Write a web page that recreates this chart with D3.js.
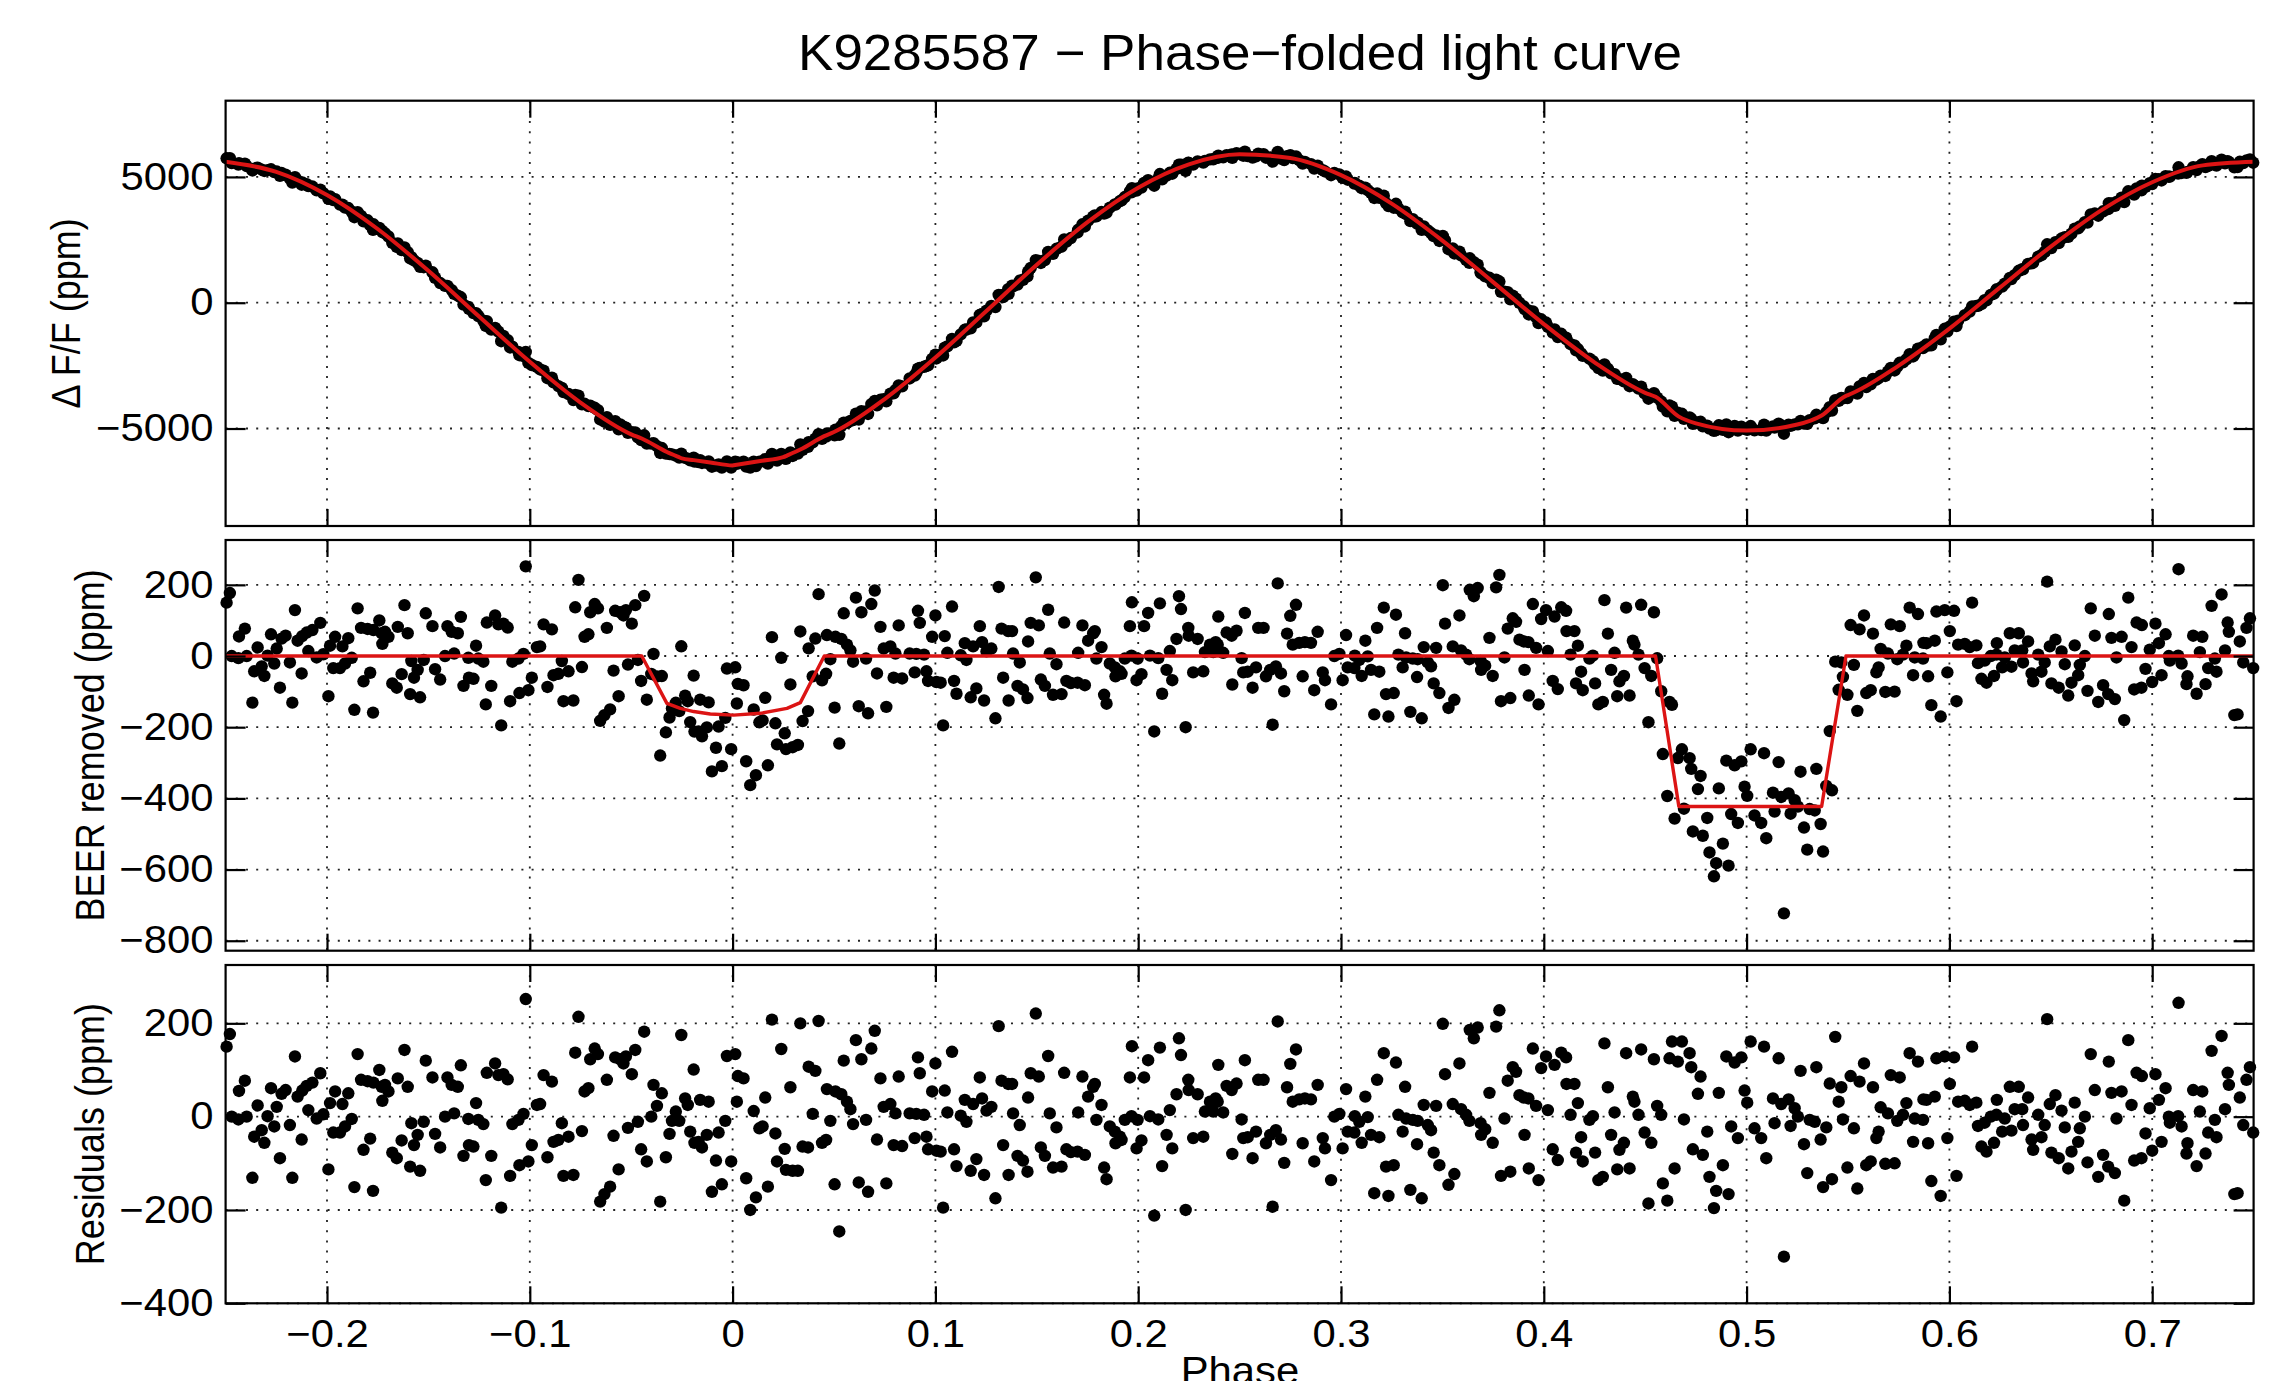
<!DOCTYPE html>
<html>
<head>
<meta charset="utf-8">
<script src="https://cdn.jsdelivr.net/npm/d3@7"></script>
<style>
  body { margin: 0; background: #fff; }
  text { font-family: "Liberation Sans", Arial, Helvetica, sans-serif; fill: #000; }
</style>
</head>
<body>
<div id="chart"></div>
<script>
// phase of every folded data point, and its residual after the full model (ppm)
const phase = [
  -0.2479, -0.2495, -0.2405, -0.2434, -0.2470, -0.2437, -0.2396, -0.2342, -0.2359, -0.2322,
  -0.2309, -0.2368, -0.2293, -0.2276, -0.2260, -0.2248, -0.2232, -0.2224, -0.2204, -0.2183,
  -0.2158, -0.2171, -0.2145, -0.2125, -0.2122, -0.2100, -0.2072, -0.2092, -0.2051, -0.2033,
  -0.2018, -0.1993, -0.1985, -0.1960, -0.1969, -0.1936, -0.1924, -0.1911, -0.1895, -0.1878,
  -0.1849, -0.1865, -0.1832, -0.1800, -0.1771, -0.1820, -0.1787, -0.1773, -0.1742, -0.1730,
  -0.1714, -0.1697, -0.1727, -0.1678, -0.1651, -0.1656, -0.1618, -0.1632, -0.1602, -0.1590,
  -0.1541, -0.1571, -0.1584, -0.1523, -0.1553, -0.1467, -0.1513, -0.1480, -0.1442, -0.1418,
  -0.1373, -0.1406, -0.1385, -0.1355, -0.1340, -0.1327, -0.1303, -0.1254, -0.1229, -0.1300,
  -0.1278, -0.1265, -0.1217, -0.1190, -0.1212, -0.1171, -0.1155, -0.1130, -0.1109, -0.1141,
  -0.1097, -0.1086, -0.1056, -0.1031, -0.1051, -0.1007, -0.1020, -0.0990, -0.0965, -0.0949,
  -0.0932, -0.0891, -0.0913, -0.0883, -0.0859, -0.0842, -0.0834,
  -0.0809, -0.0785, -0.0760, -0.0776, -0.0743, -0.0730, -0.0711, -0.0702, -0.0680, -0.0664,
  -0.0653, -0.0632, -0.0604, -0.0620, -0.0587, -0.0579, -0.0554, -0.0538, -0.0526, -0.0480,
  -0.0562, -0.0516, -0.0497, -0.0467, -0.0451, -0.0436, -0.0423, -0.0401, -0.0390, -0.0373,
  -0.0349, -0.0357, -0.0329, -0.0311, -0.0299, -0.0280, -0.0263, -0.0253, -0.0234, -0.0221,
  -0.0209, -0.0192, -0.0188, -0.0168, -0.0151, -0.0160, -0.0118, -0.0127, -0.0102, -0.0082,
  -0.0069, -0.0053, -0.0036, -0.0028, 0.0013, -0.0007, 0.0026, 0.0054, 0.0021, 0.0067,
  0.0087, 0.0104, 0.0115, 0.0132, 0.0148, 0.0161, 0.0174, 0.0194, 0.0211, 0.0219,
  0.0240, 0.0257, 0.0263, 0.0296, 0.0322, 0.0285, 0.0334, 0.0345, 0.0372, 0.0375,
  0.0408, 0.0395, 0.0424, 0.0441, 0.0461, 0.0465, 0.0507, 0.0536, 0.0482, 0.0503,
  0.0526, 0.0548, 0.0564, 0.0581, 0.0594, 0.0608, 0.0622, 0.0635, 0.0658, 0.0668,
  0.0684, 0.0701, 0.0712, 0.0729, 0.0745, 0.0778, 0.0803, 0.0758, 0.0794, 0.0836,
  0.0819,
  0.0873, 0.0906, 0.0944, 0.0898, 0.0956, 0.0914, 0.0923, 0.0964, 0.1005, 0.1026,
  0.0984, 0.1046, 0.1000, 0.1038, 0.1059, 0.1082, 0.1092, 0.1104, 0.1125, 0.1153,
  0.1145, 0.1186, 0.1230, 0.1174, 0.1202, 0.1219, 0.1240, 0.1252, 0.1276, 0.1296,
  0.1312, 0.1326, 0.1359, 0.1378, 0.1334, 0.1361, 0.1383, 0.1405, 0.1432, 0.1416,
  0.1454, 0.1457, 0.1470, 0.1510, 0.1495, 0.1520, 0.1540, 0.1556, 0.1564, 0.1580,
  0.1622, 0.1597, 0.1635, 0.1646, 0.1668, 0.1701, 0.1737, 0.1704, 0.1725, 0.1753,
  0.1778, 0.1786, 0.1794, 0.1819, 0.1832, 0.1844, 0.1860, 0.1885, 0.1910, 0.1934,
  0.1967, 0.1888, 0.1918, 0.1959, 0.1969, 0.1997, 0.1992, 0.2016, 0.2029, 0.2049,
  0.2058, 0.2099, 0.2079, 0.2107, 0.2118, 0.2140, 0.2156, 0.2168, 0.2189, 0.2201,
  0.2211, 0.2234, 0.2247, 0.2249, 0.2293, 0.2271, 0.2321, 0.2329, 0.2354, 0.2382,
  0.2392, 0.2370, 0.2419, 0.2395, 0.2436, 0.2461, 0.2485, 0.2464, 0.2510, 0.2518,
  0.2526,
  0.2540, 0.2581, 0.2564, 0.2592, 0.2618, 0.2630, 0.2651, 0.2679, 0.2704, 0.2663,
  0.2688, 0.2720, 0.2734, 0.2750, 0.2762, 0.2794, 0.2822, 0.2852, 0.2778, 0.2811,
  0.2868, 0.2885, 0.2910, 0.2921, 0.2951, 0.2967, 0.2992, 0.3008, 0.3025, 0.3033,
  0.3066, 0.3068, 0.3090, 0.3132, 0.3102, 0.3120, 0.3148, 0.3189, 0.3178, 0.3164,
  0.3234, 0.3211, 0.3222, 0.3260, 0.3271, 0.3283, 0.3321, 0.3354, 0.3378, 0.3304,
  0.3316, 0.3342, 0.3398, 0.3375, 0.3408, 0.3428, 0.3444, 0.3457, 0.3485, 0.3469,
  0.3502, 0.3513, 0.3530, 0.3559, 0.3551, 0.3592, 0.3617, 0.3633, 0.3584, 0.3635,
  0.3655, 0.3674, 0.3688, 0.3711, 0.3691, 0.3732, 0.3748, 0.3765, 0.3781, 0.3789,
  0.3835, 0.3806, 0.3822, 0.3847, 0.3863, 0.3880, 0.3901, 0.3924, 0.3962, 0.3905,
  0.3926, 0.3946, 0.3974, 0.3987, 0.4011, 0.4020, 0.4044, 0.4069, 0.4053, 0.4086,
  0.4110, 0.4112, 0.4151, 0.4132, 0.4168, 0.4159, 0.4192, 0.4184,
  0.4225, 0.4242, 0.4253, 0.4269, 0.4291, 0.4299, 0.4316, 0.4332, 0.4349, 0.4362,
  0.4373, 0.4395, 0.4406, 0.4423, 0.4439, 0.4447, 0.4467, 0.4480, 0.4497, 0.4530,
  0.4516, 0.4543, 0.4559, 0.4579, 0.4587, 0.4609, 0.4620, 0.4632, 0.4661, 0.4681,
  0.4719, 0.4645, 0.4691, 0.4727, 0.4773, 0.4735, 0.4784, 0.4760, 0.4806, 0.4817,
  0.4839, 0.4850, 0.4911, 0.4863, 0.4883, 0.4900, 0.4941, 0.4974, 0.4924, 0.4957,
  0.4990, 0.5003, 0.5020, 0.5086, 0.5039, 0.5072, 0.5097, 0.5138, 0.5158, 0.5184,
  0.5130, 0.5171, 0.5207, 0.5237, 0.5253, 0.5217, 0.5266, 0.5283, 0.5299, 0.5311,
  0.5336, 0.5344, 0.5365, 0.5377, 0.5393, 0.5410, 0.5467, 0.5421, 0.5437, 0.5454,
  0.5475, 0.5529, 0.5497, 0.5513, 0.5557, 0.5546, 0.5579, 0.5590, 0.5612, 0.5623,
  0.5640, 0.5651, 0.5661, 0.5697, 0.5684, 0.5730, 0.5711, 0.5755, 0.5743, 0.5771,
  0.5788, 0.5804, 0.5845, 0.5821, 0.5829, 0.5870, 0.5872,
  0.5895, 0.5887, 0.5928, 0.5911, 0.5936, 0.5977, 0.6023, 0.5957, 0.5990, 0.6002,
  0.6035, 0.6043, 0.6076, 0.6100, 0.6133, 0.6112, 0.6141, 0.6174, 0.6204, 0.6232,
  0.6158, 0.6183, 0.6220, 0.6234, 0.6260, 0.6306, 0.6273, 0.6298, 0.6342, 0.6322,
  0.6359, 0.6363, 0.6388, 0.6405, 0.6413, 0.6454, 0.6438, 0.6470, 0.6482, 0.6495,
  0.6523, 0.6503, 0.6539, 0.6553, 0.6569, 0.6586, 0.6602, 0.6635, 0.6618, 0.6643,
  0.6668, 0.6681, 0.6697, 0.6717, 0.6734, 0.6758, 0.6783, 0.6816, 0.6786, 0.6799,
  0.6849, 0.6824, 0.6862, 0.6882, 0.6898, 0.6911, 0.6947, 0.7000, 0.6923, 0.6949,
  0.6967, 0.6988, 0.7016, 0.7033, 0.7046, 0.7066, 0.7082, 0.7087, 0.7128, 0.7130,
  0.7145, 0.7174, 0.7169, 0.7202, 0.7247, 0.7219, 0.7235, 0.7263, 0.7276, 0.7317,
  0.7293, 0.7309, 0.7342, 0.7359, 0.7372, 0.7378, 0.7405, 0.7421, 0.7432, 0.7449,
  0.7465, 0.7482, 0.7498
]

const resid = [
  177, 150, 77, 55, 0, -6, 0, 24, -43, -29,
  -56, -131, 1, 61, -21, 21, -89, 49, 57, -18,
  129, -131, 43, -49, 56, 66, 73, 14, -4, 93,
  5, -113, 29, 54, -34, -34, 27, -21, 50, -5,
  134, -151, 79, 76, 73, -71, -47, -159, 100, 64,
  68, 54, 34, -77, 82, -89, 143, -51, 64, -107,
  -116, -61, -14, -11, -39, -37, 120, 84, -66, 0,
  7, 84, 68, 64, 110, -84, -5, -7, -16, -61,
  -64, 29, -136, -84, 94, 114, 89, 91, 80, -195,
  -127, -16, -7, 6, -104, -96, 252, -61, 25, 27,
  89, 75, -87, -54, -50, -14, -127,
  -43, -125, 214, 137, -31, 54, 61, 123, 146, 134,
  -182, -166, -150, 79, -41, 127, 123, 114, 129, 143,
  -113, -24, 91, -11, -70, 182, -96, 0, 68, 23,
  50, -182, -87, -37, -9, 11, -9, 175, 39, 25,
  -32, 101, -56, -54, -66, 36, 32, -39, -161, -94,
  -34, -145, -9, 130, 134, -96, 87, 82, 32, -132,
  -200, 12, -173, -25, -21, 41, -150, 208, -36, -96,
  145, -69, -114, -116, -116, 63, 200, -64, -66, 107,
  98, 6, 205, -56, -50, 59, 54, 48, -9, -145,
  -246, 120, 32, 16, -16, 164, -141, 123, -7, -161,
  146, 184, -49, 82, 21, 27, 7, -143, -61, -63,
  86,
  7, 6, 4, -46, -43, 127, 93, -70, -73, -75,
  54, 56, 114, -195, 9, 139, -70, -106, 2, -11,
  36, 27, 39, -116, -91, 84, -125, 13, 21, -175,
  194, 77, 70, 70, -61, -125, 7, -84, -94, -18,
  -118, 41, 93, 86, 221, -66, -84, 130, 7, -109,
  -107, -23, 94, -70, -76, -75, -82, 9, 86, 43,
  64, 70, -7, 25, -109, -134, -21, -32, -43, -7,
  1, -57, -50, 84, 151, -7, -68, -51, 84, 121,
  1, -6, -212, 148, -106, -39, 14, -68, 48, 168,
  132, -200, 79, 57, 48, -46, -43, 11, 32, 39,
  32, 11, 9, 111, 66, 57, 71, -80, -6, -46,
  121,
  -44, -32, -89, 79, 79, -57, -39, -29, -49, -193,
  204, -99, 63, 113, 32, 37, 39, 37, 144, -57,
  -96, 68, -46, -68, -136, 0, 6, -68, 59, -32,
  -34, 1, -11, -1, -56, 43, -39, -44, 79, -164,
  -170, 136, -107, -104, 116, 4, -4, -7, -9, -32,
  64, -157, -175, -59, 25, -18, -29, -77, -104, 23,
  199, 91, -146, -123, 27, 16, 4, -9, 114, 186,
  168, 191, -14, -27, -39, 51, -56, 193, 228, -127,
  -118, -4, 77, 106, 96, 46, 41, 39, 23, -39,
  -111, 146, -136, 104, 129, 14, -70, -93, 111, 137,
  127, 70, 70, 4, 29, -77, -96, -44,
  -7, 1, -77, -136, -129, 157, 63, -39, 9, -113,
  -71, -56, 136, -111, 43, 32, 4, 144, -34, -56,
  -186, 123, 23, 4, -143, -180, 125, 161, 118, 161,
  136, -111, -6, 106, 86, -70, -82, 49, -32, -129,
  -196, -159, -166, 51, -104, 129, 116, 127, -21, -46,
  56, 30, 161, 150, -25, -46, -89, -14, 125, -300,
  39, 27, 37, 18, 0, -20, 98, -59, -121, -7,
  -11, 106, -49, -151, -23, 71, 63, -134, 171, 32,
  -6, -25, -109, 87, 75, -154, 114, -104, -96, 63,
  -46, -32, 20, 7, -101, -100, 89, 84, -9, 4,
  29, 136, 118, -54, -4, -7, 37,
  -57, 36, 43, -138, 125, 129, 127, -170, -46, 70,
  -127, 32, 34, 25, 30, 150, -20, -13, 0, 4,
  -64, -75, -56, 36, -32, -30, -4, 64, 64, 16,
  16, -18, 41, -49, -71, -44, 4, -18, 209, 27,
  46, -77, -89, 13, -23, -111, -75, -54, 30, -25,
  0, -98, 134, 57, -129, -82, -107, -121, 118, 51,
  54, -4, -180, 164, 25, -94, -89, -73, 94, 87,
  -36, 18, 91, 36, -54, 61, 0, -13, 1, 244,
  -21, -57, -79, 57, 54, -106, 11, -79, -34, -44,
  141, -7, 173, 16, 94, 68, -166, -164, 41, -18,
  79, 106, -34
]

// BEER (beaming, ellipsoidal, reflection) model curve, read every 0.025 in phase
const beerPhase = [
  -0.25, -0.225, -0.2, -0.175, -0.15, -0.125, -0.1, -0.075, -0.05, -0.025,
  0, 0.025, 0.05, 0.075, 0.1, 0.125, 0.15, 0.175, 0.2, 0.225,
  0.25, 0.275, 0.3, 0.325, 0.35, 0.375, 0.4, 0.425, 0.45, 0.475,
  0.5, 0.525, 0.55, 0.575, 0.6, 0.625, 0.65, 0.675, 0.7, 0.725, 0.75
]
const beerFlux = [
  5600, 5200, 4280, 2930, 1270, -550, -2350, -3970, -5230, -6040,
  -6300, -5990, -5140, -3830, -2180, -340, 1510, 3200, 4570, 5500,
  5900, 5750, 5070, 3940, 2470, 820, -850, -2370, -3580, -4370,
  -4660, -4420, -3670, -2500, -1030, 610, 2230, 3680, 4790, 5460, 5600
]

// transit + occultation model (vertices of the red line in the middle panel)
const transitPhase = [-0.25, -0.0448, -0.0324, -0.0258, -0.0192, -0.011, 0.0005, 0.0137, 0.0268, 0.0334, 0.0452, 0.4551, 0.4666, 0.5370, 0.5490, 0.75]
const transitFlux = [0, 0, -133, -147, -156, -163, -166, -161, -147, -131, 0, 0, -423, -423, 0, 0]

const xTicks = [-0.2, -0.1, 0, 0.1, 0.2, 0.3, 0.4, 0.5, 0.6, 0.7]
const topTicks = [-5000, 0, 5000]
const midTicks = [-800, -600, -400, -200, 0, 200]
const botTicks = [-400, -200, 0, 200]

const titleText = "K9285587 \u2212 Phase\u2212folded light curve"

const W = 2272, H = 1381
const fontFam = '"Liberation Sans", Arial, Helvetica, sans-serif'
const red = "#dc1414"

const svg = d3.select("#chart")
  .append("svg")
  .attr("width", W)
  .attr("height", H)
  .attr("viewBox", "0 0 " + W + " " + H)

const x = d3.scaleLinear().domain([-0.25, 0.75]).range([225.6, 2253.6])

function interp(xs, ys, p) {
  const i = Math.min(Math.max(d3.bisectRight(xs, p), 1), xs.length - 1)
  const t = (p - xs[i - 1]) / (xs[i] - xs[i - 1])
  return ys[i - 1] + t * (ys[i] - ys[i - 1])
}

// data = BEER + transit model + residual; "BEER removed" = transit model + residual
const points = phase.map((p, i) => {
  const tr = interp(transitPhase, transitFlux, p)
  const beer = interp(beerPhase, beerFlux, p)
  return { p: p, res: resid[i], mid: resid[i] + tr, top: resid[i] + tr + beer }
})

const topNodes = Array.from(new Set(beerPhase.concat(transitPhase))).sort((a, b) => a - b)
const topModel = topNodes.map(p => ({ p: p, v: interp(beerPhase, beerFlux, p) + interp(transitPhase, transitFlux, p) }))
const midModel = transitPhase.map((p, i) => ({ p: p, v: transitFlux[i] }))

const panels = [
  { top: 100.7, bottom: 526, domain: [-8875, 8030], ticks: topTicks, key: "top", label: "\u0394 F/F (ppm)", labelX: 80, model: topModel, lw: 4, curve: d3.curveMonotoneX },
  { top: 540, bottom: 950.7, domain: [-828, 326], ticks: midTicks, key: "mid", label: "BEER removed (ppm)", labelX: 104, model: midModel, lw: 3.4, curve: d3.curveLinear },
  { top: 965, bottom: 1303.3, domain: [-400, 325], ticks: botTicks, key: "res", label: "Residuals (ppm)", labelX: 104, model: null }
]

const x0 = x.range()[0], x1 = x.range()[1]

panels.forEach((pn, k) => {
  const y = d3.scaleLinear().domain(pn.domain).range([pn.bottom, pn.top])
  const g = svg.append("g")

  // dotted grid
  g.selectAll(".gx").data(xTicks).join("line").attr("class", "gx")
    .attr("x1", d => x(d)).attr("x2", d => x(d))
    .attr("y1", pn.top).attr("y2", pn.bottom)
  g.selectAll(".gy").data(pn.ticks).join("line").attr("class", "gy")
    .attr("x1", x0).attr("x2", x1)
    .attr("y1", d => y(d)).attr("y2", d => y(d))
  g.selectAll(".gx, .gy")
    .attr("stroke", "#222").attr("stroke-width", 1.8).attr("stroke-dasharray", "2 8.2")

  // points
  g.selectAll("circle").data(points).join("circle")
    .attr("cx", d => x(d.p))
    .attr("cy", d => y(d[pn.key]))
    .attr("r", 6.2)
    .attr("fill", "#000")

  // model
  if (pn.model) {
    const line = d3.line().x(d => x(d.p)).y(d => y(d.v)).curve(pn.curve)
    g.append("path").datum(pn.model)
      .attr("d", line)
      .attr("fill", "none")
      .attr("stroke", red)
      .attr("stroke-width", pn.lw)
      .attr("stroke-linejoin", "round")
  }

  // frame
  g.append("rect")
    .attr("x", x0).attr("y", pn.top)
    .attr("width", x1 - x0).attr("height", pn.bottom - pn.top)
    .attr("fill", "none").attr("stroke", "#000").attr("stroke-width", 2.2)

  const styleAxis = a => {
    a.select(".domain").remove()
    a.selectAll(".tick line").attr("stroke-width", 2.2)
    a.attr("font-size", 38).attr("font-family", fontFam)
  }

  g.append("g").attr("transform", "translate(" + x0 + ",0)")
    .call(d3.axisLeft(y).tickValues(pn.ticks).tickSize(-20).tickPadding(11).tickFormat(d3.format("d")))
    .call(styleAxis)
    .selectAll("text").attr("transform", "scale(1.1,1)")
  g.append("g").attr("transform", "translate(" + x1 + ",0)")
    .call(d3.axisRight(y).tickValues(pn.ticks).tickSize(-20).tickFormat(""))
    .call(styleAxis)
  g.append("g").attr("transform", "translate(0," + pn.top + ")")
    .call(d3.axisTop(x).tickValues(xTicks).tickSize(-17).tickFormat(""))
    .call(styleAxis)
  const last = k === panels.length - 1
  g.append("g").attr("transform", "translate(0," + pn.bottom + ")")
    .call(d3.axisBottom(x).tickValues(xTicks).tickSize(-17).tickPadding(17)
      .tickFormat(last ? d3.format(".1~f") : ""))
    .call(styleAxis)
    .selectAll("text").attr("transform", "scale(1.1,1)")

  // y label
  svg.append("text")
    .attr("transform", "translate(" + pn.labelX + "," + (pn.top + pn.bottom) / 2 + ") scale(1.12,1) rotate(-90)")
    .attr("text-anchor", "middle")
    .attr("font-size", 36)
    .text(pn.label)
})

svg.append("text")
  .attr("transform", "translate(1240,70) scale(1.06,1)")
  .attr("text-anchor", "middle")
  .attr("font-size", 50)
  .text(titleText)

svg.append("text")
  .attr("transform", "translate(1240,1384) scale(1.1,1)")
  .attr("text-anchor", "middle")
  .attr("font-size", 38)
  .text("Phase")
</script>
</body>
</html>
